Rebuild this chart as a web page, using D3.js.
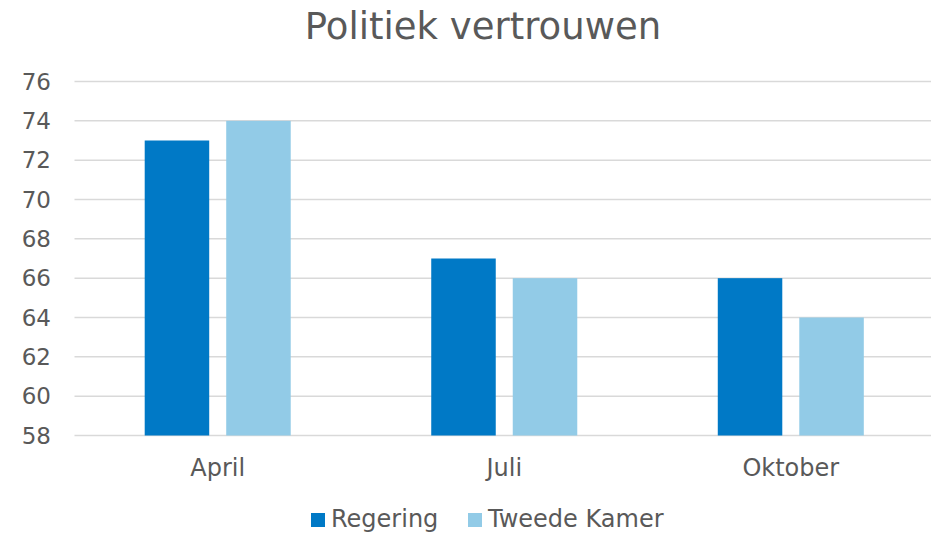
<!DOCTYPE html>
<html>
<head>
<meta charset="utf-8">
<script src="https://cdn.jsdelivr.net/npm/d3@7"></script>
<style>
  body { margin: 0; background: #fff; }
  text { font-family: "DejaVu Sans", Verdana, sans-serif; fill: #595959; }
</style>
</head>
<body>
<div id="chart"></div>
<script>
const title = "Politiek vertrouwen";
const categories = ["April", "Juli", "Oktober"];
const seriesNames = ["Regering", "Tweede Kamer"];
const regering = [73, 67, 66];
const tweedeKamer = [74, 66, 64];
const yTicks = [58, 60, 62, 64, 66, 68, 70, 72, 74, 76];
const colors = ["#0079c6", "#92cbe7"];

const width = 931, height = 533;
const margin = {top: 81.5, right: -3, bottom: 97.5, left: 74.5};

const svg = d3.select("#chart")
    .append("svg")
    .attr("width", width)
    .attr("height", height);

const x0 = d3.scaleBand()
    .domain(categories)
    .range([margin.left, width - margin.right])
    .paddingInner(0.4904)
    .paddingOuter(0.245);

const x1 = d3.scaleBand()
    .domain(seriesNames)
    .range([0, x0.bandwidth()])
    .paddingInner(0.2086)
    .paddingOuter(0);

const y = d3.scaleLinear()
    .domain([58, 76])
    .range([height - margin.bottom, margin.top]);

// gridlines
svg.append("g")
    .selectAll("line")
    .data(yTicks)
    .enter()
    .append("line")
    .attr("x1", margin.left)
    .attr("x2", width)
    .attr("y1", d => y(d))
    .attr("y2", d => y(d))
    .style("stroke", "#d9d9d9")
    .style("stroke-width", 1.5);

// y labels
svg.append("g")
    .selectAll("text")
    .data(yTicks)
    .enter()
    .append("text")
    .attr("x", 51)
    .attr("y", d => y(d))
    .attr("dy", "0.36em")
    .attr("text-anchor", "end")
    .style("font-size", "23px")
    .text(d => d);

// bars
const rows = categories.map((c, i) => ({cat: c, values: [regering[i], tweedeKamer[i]]}));

svg.append("g")
    .selectAll("g")
    .data(rows)
    .enter()
    .append("g")
    .attr("transform", d => `translate(${x0(d.cat)},0)`)
    .selectAll("rect")
    .data(d => d.values.map((v, j) => ({name: seriesNames[j], value: v, idx: j})))
    .enter()
    .append("rect")
    .attr("x", d => x1(d.name))
    .attr("y", d => y(d.value))
    .attr("width", x1.bandwidth())
    .attr("height", d => y(58) - y(d.value))
    .attr("fill", d => colors[d.idx]);

// category labels
svg.append("g")
    .selectAll("text")
    .data(categories)
    .enter()
    .append("text")
    .attr("x", d => x0(d) + x0.bandwidth() / 2)
    .attr("y", 476)
    .attr("text-anchor", "middle")
    .style("font-size", "24px")
    .text(d => d);

// title
svg.append("text")
    .attr("x", 483)
    .attr("y", 39)
    .attr("text-anchor", "middle")
    .style("font-size", "37px")
    .text(title);

// legend
const legendX = [311, 468];
const legend = svg.append("g")
    .selectAll("g")
    .data(seriesNames)
    .enter()
    .append("g")
    .attr("transform", (d, i) => `translate(${legendX[i]},513)`);

legend.append("rect")
    .attr("width", 14)
    .attr("height", 14)
    .attr("fill", (d, i) => colors[i]);

legend.append("text")
    .attr("x", 20)
    .attr("y", 14)
    .style("font-size", "24px")
    .text(d => d);
</script>
</body>
</html>
